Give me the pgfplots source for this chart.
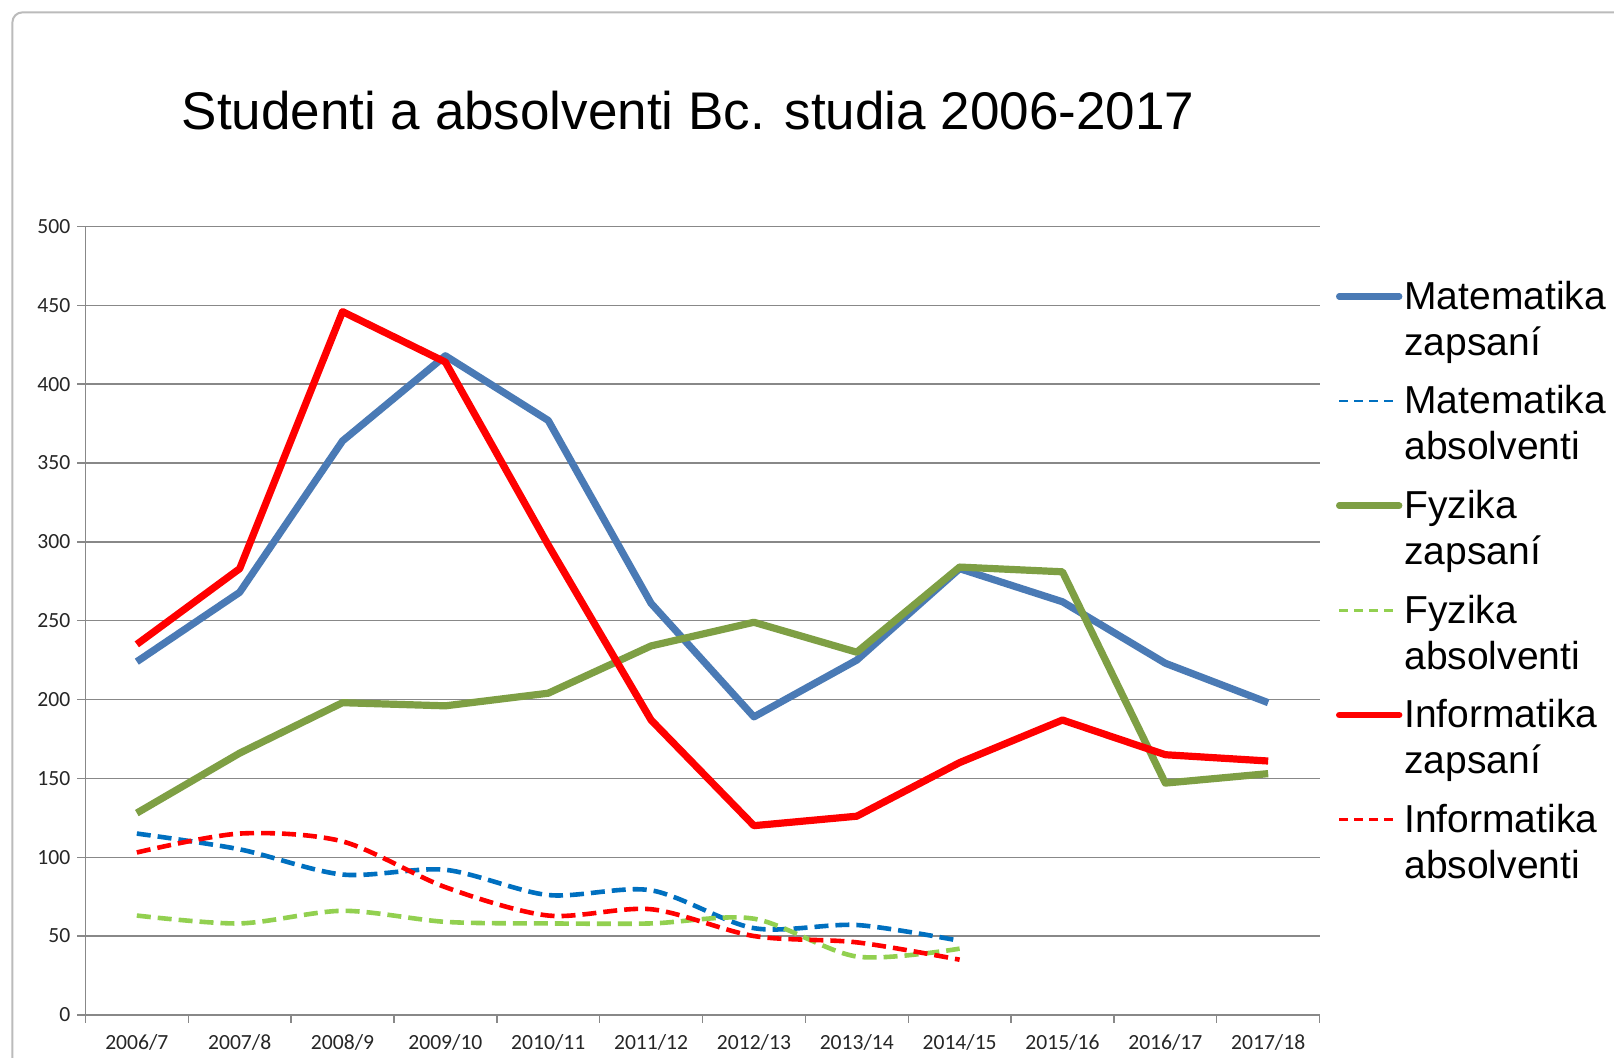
\documentclass[border=0pt]{standalone}
\usepackage{pgfplots}
\pgfplotsset{compat=1.18}
\usepackage{fontspec}
\setmainfont{Liberation Sans}
\newfontfamily\carlito{Carlito}
\definecolor{matblue}{HTML}{4A7AB5}
\definecolor{matdash}{HTML}{0070C0}
\definecolor{fyzgreen}{HTML}{7E9F44}
\definecolor{fyzdash}{HTML}{92D050}
\definecolor{infred}{HTML}{FF0000}
\definecolor{gridgray}{HTML}{888888}
\definecolor{framegray}{HTML}{BBBBBB}
\begin{document}
\begin{tikzpicture}
\useasboundingbox (0pt,0pt) rectangle (807pt,529pt);
\fill[white] (0pt,0pt) rectangle (807pt,529pt);
\draw[color=framegray, line width=1pt, rounded corners=5pt] (6.2pt,0pt) -- (6.2pt,522.8pt) -- (807pt,522.8pt);
\node[font=\fontsize{26.5}{30}\selectfont] at (344pt,473.5pt) {Studenti a absolventi Bc. studia 2006-2017};
\begin{axis}[
  at={(42.7pt,21.55pt)}, anchor=south west,
  scale only axis, width=617.1pt, height=394.2pt,
  xmin=-0.5, xmax=11.5, ymin=0, ymax=500,
  axis x line*=bottom, axis y line*=left,
  axis line style={-, draw=gridgray, line width=0.7pt},
  xtick={-0.5,0.5,...,11.5}, xticklabels={},
  extra x ticks={0,1,...,11},
  extra x tick labels={2006/7,2007/8,2008/9,2009/10,2010/11,2011/12,2012/13,2013/14,2014/15,2015/16,2016/17,2017/18},
  extra x tick style={major tick length=0pt, grid=none},
  ytick={0,50,...,500},
  tick align=outside, major tick length=4pt,
  tick style={draw=gridgray, line width=0.7pt},
  ymajorgrids=true,
  grid style={draw=gridgray, line width=0.7pt},
  /pgf/number format/assume math mode=true,
  ticklabel style={font=\carlito\fontsize{10.8}{13}\selectfont, text=black!85},
  x tick label style={anchor=center, yshift=-14pt},
  legend style={at={(1,1)}, anchor=north west, xshift=8pt, yshift=-26pt,
    draw=none, fill=none, inner sep=0pt, row sep=11.7pt,
    font=\fontsize{19.5}{23}\selectfont,
    nodes={align=left, inner sep=1pt}},
  legend cell align=left,
]
\addplot[forget plot, color=matblue, line width=3.6pt, line join=round] coordinates {
(0,224) (1,268) (2,364) (3,418) (4,377) (5,261) (6,189) (7,225) (8,283) (9,262) (10,223) (11,198)};
\addplot[forget plot, color=matdash, line width=2.3pt, smooth, dash pattern=on 7pt off 3.5pt] coordinates {
(0,115) (1,105) (2,89) (3,92) (4,76) (5,79) (6,55) (7,57) (8,47)};
\addplot[forget plot, color=fyzgreen, line width=3.6pt, line join=round] coordinates {
(0,128) (1,166) (2,198) (3,196) (4,204) (5,234) (6,249) (7,230) (8,284) (9,281) (10,147) (11,153)};
\addplot[forget plot, color=fyzdash, line width=2.3pt, smooth, dash pattern=on 7pt off 3.5pt] coordinates {
(0,63) (1,58) (2,66) (3,59) (4,58) (5,58) (6,61) (7,37) (8,42)};
\addplot[forget plot, color=infred, line width=3.6pt, line join=round] coordinates {
(0,235) (1,283) (2,446) (3,414) (4,298) (5,187) (6,120) (7,126) (8,160) (9,187) (10,165) (11,161)};
\addplot[forget plot, color=infred, line width=2.3pt, smooth, dash pattern=on 7pt off 3.5pt] coordinates {
(0,103) (1,115) (2,110) (3,81) (4,63) (5,67) (6,50) (7,46) (8,35)};
\pgfplotsset{legend image code/.code={\draw[#1] (0pt,11.6pt) -- (30pt,11.6pt);}}
\addlegendimage{color=matblue, line width=3.2pt, line cap=round}
\addlegendentry{Matematika\\zapsaní}
\addlegendimage{color=matdash, line width=1.3pt, dash pattern=on 4.5pt off 3pt}
\addlegendentry{Matematika\\absolventi}
\addlegendimage{color=fyzgreen, line width=3.2pt, line cap=round}
\addlegendentry{Fyzika\\zapsaní}
\addlegendimage{color=fyzdash, line width=1.3pt, dash pattern=on 4.5pt off 3pt}
\addlegendentry{Fyzika\\absolventi}
\addlegendimage{color=infred, line width=3.2pt, line cap=round}
\addlegendentry{Informatika\\zapsaní}
\addlegendimage{color=infred, line width=1.3pt, dash pattern=on 4.5pt off 3pt}
\addlegendentry{Informatika\\absolventi}
\end{axis}
\end{tikzpicture}
\end{document}
